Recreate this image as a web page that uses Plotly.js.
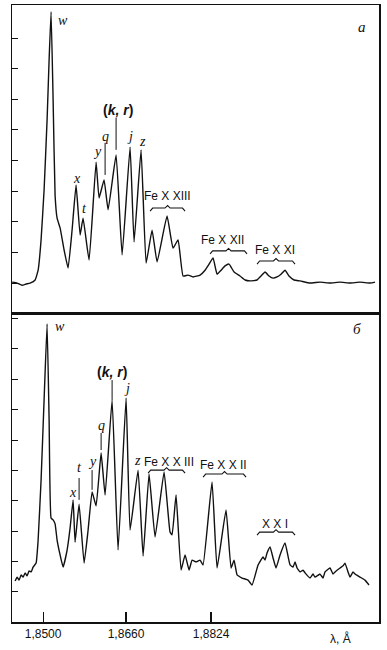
<!DOCTYPE html>
<html><head><meta charset="utf-8">
<script src="https://cdn.plot.ly/plotly-3.0.1.min.js"></script>
<style>html,body{margin:0;padding:0;background:#fff}#chart{width:387px;height:650px}</style>
</head><body><div id="chart"></div>
<script>
// Panel a spectrum (wavelength, Å ; relative intensity)
const lamA = [1.84402,1.84499,1.84595,1.84672,1.84749,1.84846,1.84904,1.84961,1.85019,1.85077,1.85116,1.85154,1.85193,1.85231,1.85270,1.85328,1.85405,1.85482,1.85559,1.85636,1.85714,1.85771,1.85887,1.86022,1.86080,1.86176,1.86254,1.86408,1.86524,1.86678,1.86755,1.86890,1.86987,1.87102,1.87199,1.87391,1.87507,1.87604,1.87700,1.87797,1.87893,1.88028,1.88124,1.88202,1.88279,1.88356,1.88433,1.88510,1.88587,1.88684,1.88799,1.88896,1.88992,1.89127,1.89204,1.89282,1.89359,1.89436,1.89513,1.89590,1.89667,1.89744,1.89841,1.89957,1.90149,1.90342,1.90535,1.90728,1.90921,1.91114,1.91307,1.91403];
const intA = [0.03,0,-0.07,-0.03,0,0.10,0.42,1.41,3.04,5.33,7.29,8.86,5.98,2.87,2.12,1.80,1.08,0.49,1.73,3.20,1.57,2.12,0.75,3.95,2.78,3.37,2.39,4.18,0.92,4.44,1.34,4.35,0.65,1.73,0.69,2.19,1.14,1.41,0.23,0.26,0.20,0.26,0.42,0.62,0.82,0.29,0.42,0.56,0.62,0.36,0.23,0.10,0.07,0.10,0.23,0.36,0.23,0.16,0.20,0.29,0.42,0.23,0.10,0.07,0,0.03,0,0.03,0,0.03,0,0.03];

// Panel b spectrum
const lamB = [1.84460,1.84499,1.84537,1.84576,1.84614,1.84653,1.84691,1.84730,1.84769,1.84807,1.84865,1.84904,1.84961,1.85019,1.85077,1.85116,1.85154,1.85193,1.85231,1.85270,1.85328,1.85386,1.85463,1.85521,1.85579,1.85617,1.85694,1.85791,1.85868,1.85945,1.86022,1.86119,1.86196,1.86331,1.86446,1.86601,1.86678,1.86832,1.86929,1.87044,1.87160,1.87334,1.87449,1.87488,1.87565,1.87662,1.87739,1.87816,1.87874,1.87951,1.88028,1.88086,1.88259,1.88356,1.88529,1.88626,1.88684,1.88742,1.88838,1.88954,1.89031,1.89147,1.89243,1.89282,1.89320,1.89378,1.89436,1.89494,1.89571,1.89667,1.89764,1.89822,1.89860,1.89899,1.89957,1.90014,1.90053,1.90149,1.90207,1.90246,1.90342,1.90400,1.90439,1.90535,1.90593,1.90632,1.90728,1.90786,1.90824,1.90882,1.90921,1.90979,1.91017,1.91114,1.91210,1.91287];
const intB = [0.36,0.49,0.39,0.56,0.49,0.63,0.53,0.69,0.66,0.82,0.95,1.71,3.68,6.32,8.82,5.66,2.43,2.37,2.24,1.71,1.22,0.82,1.38,2.11,3.03,1.64,2.89,0.95,2.04,3.29,2.83,4.57,3.19,6.32,1.38,6.38,2.04,4.01,1.18,3.88,1.81,3.95,1.97,1.88,3.19,0.72,1.22,0.72,1.05,0.99,1.05,0.89,3.62,0.79,2.70,0.79,1.05,0.56,0.46,0.39,0.23,0.89,1.15,1.05,1.28,1.48,1.12,0.79,1.22,1.61,0.89,0.82,0.99,0.79,0.66,0.72,0.63,0.46,0.59,0.49,0.59,0.46,0.66,0.79,0.59,0.66,0.79,0.86,0.95,0.66,0.49,0.66,0.59,0.49,0.39,0.23];

// Axis ticks
const xTickVals = [1.8500, 1.8660, 1.8824];
const xTickText = ['1,8500', '1,8660', '1,8824'];
const yTicksA = [0,1,2,3,4,5,6,7,8];
const yTicksB = [0,1,2,3,4,5,6,7,8,9];

// Line labels: [text, λ, intensity]
const labelsA = [['w',1.85386,8.59],['x',1.85656,3.43],['t',1.85791,2.45],['y',1.86041,4.28],['q',1.86196,4.77],['(k, r)',1.86446,5.65],['j',1.86678,4.77],['z',1.86909,4.61]];
const labelsB = [['w',1.85328,8.75],['x',1.85579,3.26],['t',1.85694,4.08],['y',1.85945,4.28],['q',1.86119,5.49],['(k, r)',1.86331,7.24],['j',1.86620,6.71],['z',1.86830,4.34]];
// Leader lines: [λ, I0, I1]
const leadA = [[1.86196,3.53,4.58],[1.86408,4.35,5.39]];
const leadB = [[1.85694,3.03,3.75],[1.85945,3.36,4.01],[1.86119,4.67,5.23],[1.86331,6.32,6.97]];
// Ion groups: [text, λcenter, I text, λ0, λ1, I brace]
const groupsA = [['Fe X XIII',1.87391,2.84,1.87064,1.87739,2.45],['Fe X XII',1.88452,1.41,1.88221,1.88934,1.05],['Fe X XI',1.89474,1.08,1.89127,1.89860,0.72]];
const groupsB = [['Fe X X III',1.87430,4.28,1.87025,1.87739,4.01],['Fe X X II',1.88472,4.18,1.88086,1.88915,3.88],['X X I',1.89474,2.24,1.89127,1.89860,1.97]];

const xRange = [1.8440, 1.9148];
const lineStyle = {color:'#111', width:1.4, shape:'spline', smoothing:0.35};

const traces = [
  {x: lamA, y: intA, xaxis:'x', yaxis:'y', mode:'lines', line: lineStyle, hoverinfo:'skip'},
  {x: lamB, y: intB, xaxis:'x2', yaxis:'y2', mode:'lines', line: lineStyle, hoverinfo:'skip'}
];

const ann = [];
const shapes = [];
const italic = {family:'Liberation Serif, serif', size:14, color:'#111'};
const grpFont = {family:'Liberation Sans, sans-serif', size:12, color:'#111'};

function addLabels(list, xr, yr){
  list.forEach(l => {
    const isKR = l[0].startsWith('(');
    ann.push({text: isKR ? '<b>(<i>k, r</i>)</b>' : '<i>'+l[0]+'</i>', x:l[1], y:l[2], xref:xr, yref:yr,
      showarrow:false, font: isKR ? {family:'Liberation Sans, sans-serif', size:14, color:'#111'} : italic});
  });
}
function addLeads(list, xr, yr){
  list.forEach(l => shapes.push({type:'line', xref:xr, yref:yr, x0:l[0], x1:l[0], y0:l[1], y1:l[2], line:{color:'#111', width:1}}));
}
function addGroups(list, xr, yr){
  list.forEach(g => {
    ann.push({text:g[0], x:g[1], y:g[2], xref:xr, yref:yr, showarrow:false, font:grpFont});
    const a=g[3], b=g[4], y=g[5], m=(a+b)/2, dx=0.0005;
    const path = `M ${a},${y-0.1} L ${a+dx},${y} L ${m-dx},${y} L ${m},${y+0.08} L ${m+dx},${y} L ${b-dx},${y} L ${b},${y-0.1}`;
    shapes.push({type:'path', xref:xr, yref:yr, path:path, line:{color:'#111', width:1.1}});
  });
}
addLabels(labelsA,'x','y'); addLeads(leadA,'x','y'); addGroups(groupsA,'x','y');
addLabels(labelsB,'x2','y2'); addLeads(leadB,'x2','y2'); addGroups(groupsB,'x2','y2');

ann.push({text:'<i>а</i>', xref:'paper', yref:'paper', x:0.970, y:0.9805, showarrow:false, font:{family:'Liberation Serif, serif', size:15, color:'#111'}});
ann.push({text:'<i>б</i>', xref:'paper', yref:'paper', x:0.956, y:0.4749, showarrow:false, font:{family:'Liberation Serif, serif', size:15, color:'#111'}});
ann.push({text:'λ, Å', xref:'paper', yref:'paper', x:0.93, y:-0.012, yanchor:'top', showarrow:false, font:{family:'Liberation Sans, sans-serif', size:12, color:'#111'}});

const axLine = {showline:true, linecolor:'#111', linewidth:1.5, mirror:true, showgrid:false, zeroline:false};
const layout = {
  width:387, height:650, margin:{l:12, r:8, t:5, b:28},
  paper_bgcolor:'#fff', plot_bgcolor:'#fff', showlegend:false,
  xaxis: Object.assign({}, axLine, {range:xRange, domain:[0,1], anchor:'y', ticks:'', showticklabels:false}),
  yaxis: Object.assign({}, axLine, {range:[-1.01, 9.08], domain:[0.4992,1], anchor:'x', ticks:'inside', ticklen:6, tickcolor:'#111', tickvals:yTicksA, showticklabels:false}),
  xaxis2: Object.assign({}, axLine, {range:xRange, domain:[0,1], anchor:'y2', ticks:'inside', ticklen:10, tickcolor:'#111', tickwidth:1.2, tickvals:xTickVals, ticktext:xTickText,
    tickfont:{family:'Liberation Sans, sans-serif', size:12, color:'#111'}}),
  yaxis2: Object.assign({}, axLine, {range:[-0.987, 9.145], domain:[0,0.4992], anchor:'x2', ticks:'inside', ticklen:6, tickcolor:'#111', tickvals:yTicksB, showticklabels:false}),
  annotations: ann, shapes: shapes
};
Plotly.newPlot('chart', traces, layout, {staticPlot:true, displayModeBar:false});
</script></body></html>
